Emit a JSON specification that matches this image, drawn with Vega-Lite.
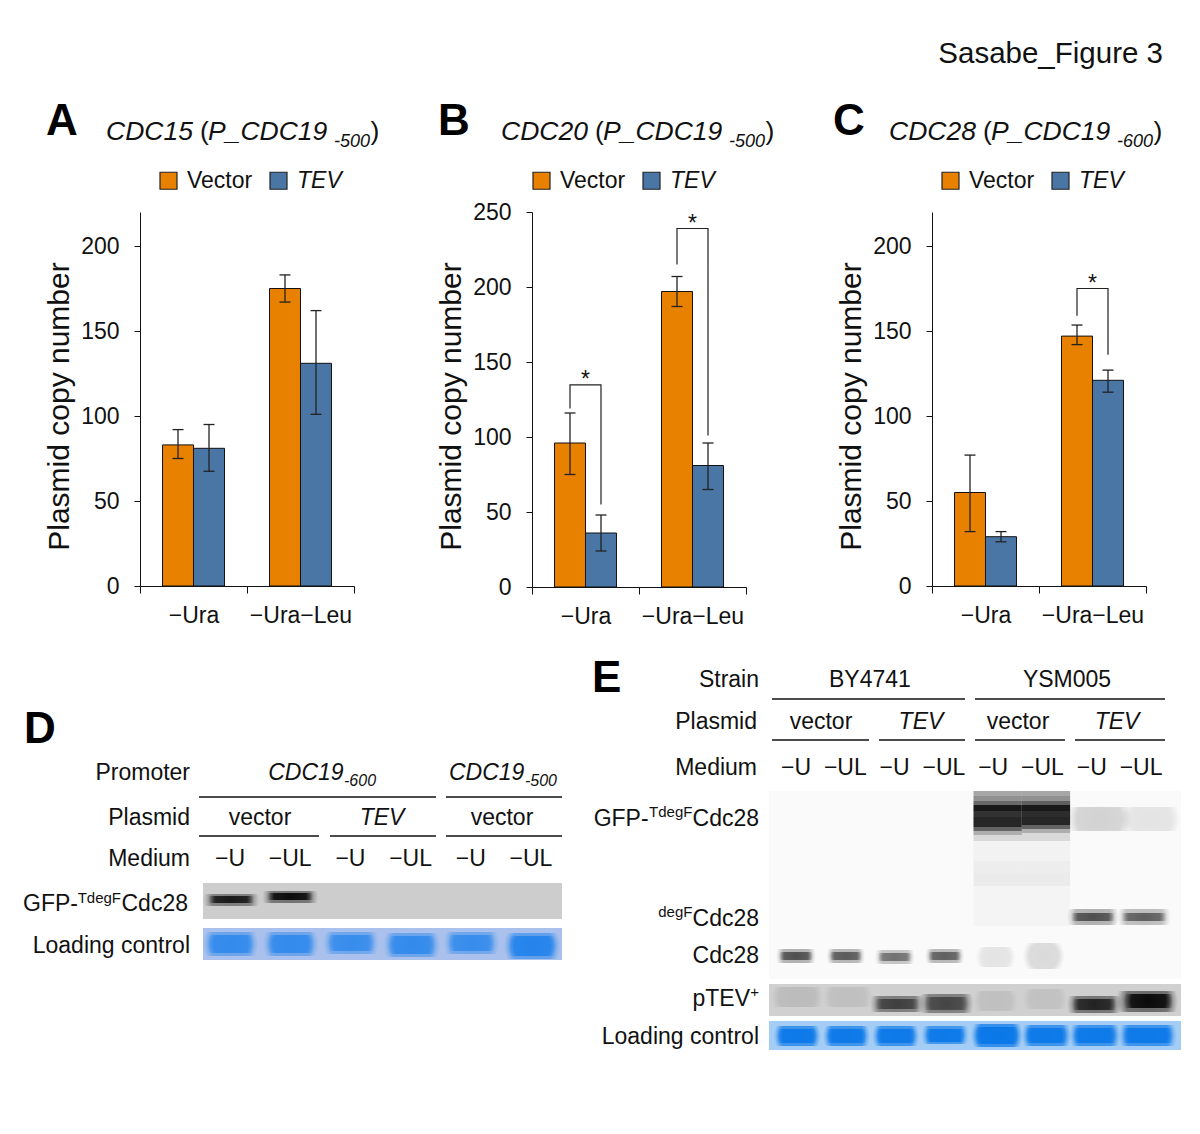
{
"$schema":"https://vega.github.io/schema/vega-lite/v6.json",
"background":"white",
"padding":{"left":10,"top":39,"right":0,"bottom":0},
"config":{"view":{"stroke":null},"font":"Liberation Sans","text":{"font":"Liberation Sans","fontSize":23,"color":"#111"}},
"datasets":{
"a":[{"cond":"−Ura","series":"Vector","mean":83,"lo":75,"hi":92},{"cond":"−Ura","series":"TEV","mean":81,"lo":67.5,"hi":95},{"cond":"−Ura−Leu","series":"Vector","mean":175,"lo":167,"hi":183},{"cond":"−Ura−Leu","series":"TEV","mean":131,"lo":101,"hi":162}],
"b":[{"cond":"−Ura","series":"Vector","mean":96,"lo":75,"hi":116},{"cond":"−Ura","series":"TEV","mean":36,"lo":24,"hi":48},{"cond":"−Ura−Leu","series":"Vector","mean":197,"lo":187,"hi":207},{"cond":"−Ura−Leu","series":"TEV","mean":81,"lo":65,"hi":96}],
"c":[{"cond":"−Ura","series":"Vector","mean":55,"lo":32,"hi":77},{"cond":"−Ura","series":"TEV","mean":29,"lo":26,"hi":32},{"cond":"−Ura−Leu","series":"Vector","mean":147,"lo":142,"hi":153.5},{"cond":"−Ura−Leu","series":"TEV","mean":121,"lo":114,"hi":127}],
"bb":[{"cond":"−Ura","series":"Vector","v":119,"step":1},{"cond":"−Ura","series":"Vector","v":134.7,"step":2},{"cond":"−Ura","series":"TEV","v":134.7,"step":3},{"cond":"−Ura","series":"TEV","v":55,"step":4},{"cond":"−Ura−Leu","series":"Vector","v":215,"step":1},{"cond":"−Ura−Leu","series":"Vector","v":239,"step":2},{"cond":"−Ura−Leu","series":"TEV","v":239,"step":3},{"cond":"−Ura−Leu","series":"TEV","v":101,"step":4}],
"bc":[{"cond":"−Ura−Leu","series":"Vector","v":159,"step":1},{"cond":"−Ura−Leu","series":"Vector","v":175,"step":2},{"cond":"−Ura−Leu","series":"TEV","v":175,"step":3},{"cond":"−Ura−Leu","series":"TEV","v":136,"step":4}],
"sb":[{"cond":"−Ura","v":134.7},{"cond":"−Ura−Leu","v":239}],
"sc":[{"cond":"−Ura−Leu","v":175}],
"dGray":[{"l0":0.551,"l1":6.515,"g0":882,"g1":918}],
"dBlue":[{"l0":0.551,"l1":6.515,"g0":927,"g1":959}],
"dBands":[
{"l0":0.56,"l1":1.48,"g0":893,"g1":905,"s":0.4},{"l0":0.64,"l1":1.4,"g0":895,"g1":902,"s":0.8},
{"l0":1.54,"l1":2.46,"g0":890,"g1":902,"s":0.45},{"l0":1.62,"l1":2.38,"g0":892,"g1":899,"s":0.9}],
"dLoad":[
{"l0":0.55,"l1":1.47,"g0":931,"g1":955,"s":0.45},{"l0":0.62,"l1":1.4,"g0":934,"g1":952,"s":0.7},
{"l0":1.55,"l1":2.47,"g0":931,"g1":955,"s":0.45},{"l0":1.62,"l1":2.4,"g0":934,"g1":952,"s":0.7},
{"l0":2.55,"l1":3.47,"g0":931,"g1":953,"s":0.42},{"l0":2.62,"l1":3.4,"g0":934,"g1":950,"s":0.65},
{"l0":3.55,"l1":4.49,"g0":932,"g1":956,"s":0.45},{"l0":3.62,"l1":4.42,"g0":935,"g1":953,"s":0.7},
{"l0":4.55,"l1":5.47,"g0":931,"g1":953,"s":0.42},{"l0":4.62,"l1":5.4,"g0":934,"g1":950,"s":0.65},
{"l0":5.55,"l1":6.49,"g0":932,"g1":958,"s":0.55},{"l0":5.62,"l1":6.42,"g0":935,"g1":955,"s":0.85}],
"dRules":[{"l0":0.485,"l1":4.422,"g0":796},{"l0":4.588,"l1":6.515,"g0":796},{"l0":0.485,"l1":2.478,"g0":835},{"l0":2.661,"l1":4.422,"g0":835},{"l0":4.588,"l1":6.515,"g0":835}],
"dRight":[{"label":"Promoter","l0":0.336,"g0":772},{"label":"Plasmid","l0":0.336,"g0":817},{"label":"Medium","l0":0.336,"g0":858},{"label":"Cdc28","l0":0.302,"g0":903},{"label":"GFP-","l0":-1.525,"g0":903},{"label":"Loading control","l0":0.336,"g0":945}],
"dSup":[{"label":"TdegF","l0":-0.81,"g0":897}],
"dCenter":[{"label":"vector","l0":1.498,"g0":817},{"label":"vector","l0":5.518,"g0":817},{"label":"−U","l0":1,"g0":858},{"label":"−UL","l0":2,"g0":858},{"label":"−U","l0":3,"g0":858},{"label":"−UL","l0":4,"g0":858},{"label":"−U","l0":5,"g0":858},{"label":"−UL","l0":6,"g0":858}],
"dItalic":[{"label":"TEV","l0":3.525,"g0":817}],
"dProm":[{"label":"CDC19","l0":1.635,"g0":772},{"label":"CDC19","l0":4.638,"g0":772}],
"dSub":[{"label":"-600","l0":2.894,"g0":780},{"label":"-500","l0":5.9,"g0":780}],
"dLetter":[{"label":"D","l0":-2.422,"g0":729}],
"eMain":[{"l0":0.452,"l1":8.81,"g0":790,"g1":978}],
"eGray":[{"l0":0.452,"l1":8.81,"g0":983,"g1":1015}],
"eBlue":[{"l0":0.452,"l1":8.81,"g0":1020,"g1":1049}],
"eSmear":[
{"l0":4.6,"l1":5.58,"g0":790,"g1":795,"s":0.33},{"l0":4.6,"l1":5.58,"g0":795,"g1":800,"s":0.42},{"l0":4.6,"l1":5.58,"g0":800,"g1":804,"s":0.58},{"l0":4.6,"l1":5.58,"g0":804,"g1":810,"s":0.9},{"l0":4.6,"l1":5.58,"g0":810,"g1":816,"s":0.8},{"l0":4.6,"l1":5.58,"g0":816,"g1":826,"s":0.85},{"l0":4.6,"l1":5.58,"g0":826,"g1":830,"s":0.6},{"l0":4.6,"l1":5.58,"g0":830,"g1":834,"s":0.3},{"l0":4.6,"l1":5.58,"g0":834,"g1":840,"s":0.13},{"l0":4.6,"l1":5.58,"g0":840,"g1":860,"s":0.03},{"l0":4.6,"l1":5.58,"g0":860,"g1":872,"s":0.05},{"l0":4.6,"l1":5.58,"g0":872,"g1":885,"s":0.06},{"l0":4.6,"l1":5.58,"g0":885,"g1":925,"s":0.025},
{"l0":5.58,"l1":6.56,"g0":790,"g1":795,"s":0.33},{"l0":5.58,"l1":6.56,"g0":795,"g1":800,"s":0.42},{"l0":5.58,"l1":6.56,"g0":800,"g1":804,"s":0.62},{"l0":5.58,"l1":6.56,"g0":804,"g1":810,"s":0.9},{"l0":5.58,"l1":6.56,"g0":810,"g1":816,"s":0.82},{"l0":5.58,"l1":6.56,"g0":816,"g1":824,"s":0.85},{"l0":5.58,"l1":6.56,"g0":824,"g1":828,"s":0.6},{"l0":5.58,"l1":6.56,"g0":828,"g1":832,"s":0.3},{"l0":5.58,"l1":6.56,"g0":832,"g1":840,"s":0.13},{"l0":5.58,"l1":6.56,"g0":840,"g1":860,"s":0.03},{"l0":5.58,"l1":6.56,"g0":860,"g1":872,"s":0.05},{"l0":5.58,"l1":6.56,"g0":872,"g1":885,"s":0.06},{"l0":5.58,"l1":6.56,"g0":885,"g1":925,"s":0.025}],
"eBands":[
{"l0":6.5,"l1":7.8,"g0":806,"g1":830,"s":0.16},
{"l0":7.6,"l1":8.8,"g0":806,"g1":830,"s":0.09},
{"l0":6.5,"l1":7.55,"g0":908,"g1":924,"s":0.3},{"l0":6.58,"l1":7.47,"g0":912,"g1":920,"s":0.55},
{"l0":7.52,"l1":8.6,"g0":908,"g1":924,"s":0.25},{"l0":7.6,"l1":8.52,"g0":912,"g1":920,"s":0.5},
{"l0":0.6,"l1":1.4,"g0":948,"g1":962,"s":0.3},{"l0":0.66,"l1":1.34,"g0":951,"g1":959,"s":0.55},
{"l0":1.62,"l1":2.4,"g0":948,"g1":962,"s":0.28},{"l0":1.68,"l1":2.34,"g0":951,"g1":959,"s":0.5},
{"l0":2.6,"l1":3.41,"g0":949,"g1":963,"s":0.22},{"l0":2.66,"l1":3.35,"g0":952,"g1":960,"s":0.42},
{"l0":3.62,"l1":4.41,"g0":948,"g1":962,"s":0.27},{"l0":3.68,"l1":4.35,"g0":951,"g1":959,"s":0.48},
{"l0":4.65,"l1":5.45,"g0":946,"g1":966,"s":0.09},{"l0":5.6,"l1":6.45,"g0":942,"g1":968,"s":0.13}],
"eTev":[
{"l0":0.5,"l1":1.55,"g0":986,"g1":1006,"s":0.1},{"l0":1.55,"l1":2.55,"g0":986,"g1":1006,"s":0.08},
{"l0":2.5,"l1":3.6,"g0":995,"g1":1011,"s":0.4},{"l0":2.6,"l1":3.5,"g0":998,"g1":1008,"s":0.5},
{"l0":3.5,"l1":4.6,"g0":993,"g1":1012,"s":0.4},{"l0":3.6,"l1":4.5,"g0":996,"g1":1009,"s":0.45},
{"l0":4.6,"l1":5.5,"g0":990,"g1":1010,"s":0.08},{"l0":5.6,"l1":6.5,"g0":988,"g1":1008,"s":0.07},
{"l0":6.5,"l1":7.6,"g0":995,"g1":1012,"s":0.45},{"l0":6.6,"l1":7.5,"g0":998,"g1":1009,"s":0.7},
{"l0":7.5,"l1":8.75,"g0":990,"g1":1011,"s":0.5},{"l0":7.65,"l1":8.65,"g0":993,"g1":1007,"s":0.9}],
"eLoad":[
{"l0":0.55,"l1":1.5,"g0":1025,"g1":1045,"s":0.7},{"l0":0.62,"l1":1.43,"g0":1028,"g1":1042,"s":0.95},
{"l0":1.55,"l1":2.5,"g0":1025,"g1":1045,"s":0.7},{"l0":1.62,"l1":2.43,"g0":1028,"g1":1042,"s":0.95},
{"l0":2.55,"l1":3.5,"g0":1025,"g1":1045,"s":0.7},{"l0":2.62,"l1":3.43,"g0":1028,"g1":1042,"s":0.95},
{"l0":3.55,"l1":4.5,"g0":1025,"g1":1043,"s":0.65},{"l0":3.62,"l1":4.43,"g0":1028,"g1":1041,"s":0.95},
{"l0":4.55,"l1":5.6,"g0":1023,"g1":1046,"s":0.75},{"l0":4.62,"l1":5.53,"g0":1026,"g1":1043,"s":1},
{"l0":5.58,"l1":6.58,"g0":1024,"g1":1045,"s":0.7},{"l0":5.65,"l1":6.5,"g0":1027,"g1":1042,"s":0.95},
{"l0":6.55,"l1":7.58,"g0":1024,"g1":1045,"s":0.7},{"l0":6.62,"l1":7.5,"g0":1027,"g1":1042,"s":0.95},
{"l0":7.55,"l1":8.72,"g0":1024,"g1":1045,"s":0.7},{"l0":7.62,"l1":8.65,"g0":1027,"g1":1042,"s":0.95}],
"eRules":[{"l0":0.513,"l1":4.428,"g0":698},{"l0":4.631,"l1":8.485,"g0":698},{"l0":0.513,"l1":2.481,"g0":739},{"l0":2.684,"l1":4.428,"g0":739},{"l0":4.631,"l1":6.456,"g0":739},{"l0":6.659,"l1":8.485,"g0":739}],
"eRight":[{"label":"Strain","l0":0.25,"g0":679},{"label":"Plasmid","l0":0.209,"g0":721},{"label":"Medium","l0":0.209,"g0":767},{"label":"Cdc28","l0":0.25,"g0":818},{"label":"GFP-","l0":-1.99,"g0":818},{"label":"Cdc28","l0":0.25,"g0":918},{"label":"Cdc28","l0":0.25,"g0":955},{"label":"pTEV","l0":0.067,"g0":998},{"label":"Loading control","l0":0.25,"g0":1036}],
"eSup":[{"label":"TdegF","l0":-1.1,"g0":811},{"label":"degF","l0":-1.1,"g0":911},{"label":"+","l0":0.25,"g0":991}],
"eCenter":[{"label":"BY4741","l0":2.5,"g0":679},{"label":"YSM005","l0":6.497,"g0":679},{"label":"vector","l0":1.507,"g0":721},{"label":"vector","l0":5.503,"g0":721},{"label":"−U","l0":1,"g0":767},{"label":"−UL","l0":2,"g0":767},{"label":"−U","l0":3,"g0":767},{"label":"−UL","l0":4,"g0":767},{"label":"−U","l0":5,"g0":767},{"label":"−UL","l0":6,"g0":767},{"label":"−U","l0":7,"g0":767},{"label":"−UL","l0":8,"g0":767}],
"eItalic":[{"label":"TEV","l0":3.535,"g0":721},{"label":"TEV","l0":7.511,"g0":721}],
"eLetter":[{"label":"E","l0":-3.138,"g0":678}]
},
"vconcat":[
{"resolve":{"legend":{"color":"independent"},"scale":{"color":"independent"}},"hconcat":[
{"width":214,"height":374,"layer":[
{"data":{"name":"a"},"mark":{"type":"bar","stroke":"#111","strokeWidth":1},"encoding":{"x":{"field":"cond","type":"nominal","title":null,"scale":{"domain":["−Ura","−Ura−Leu"],"paddingInner":0,"paddingOuter":0},"axis":{"tickBand":"extent","labelAngle":0,"labelFontSize":23,"labelColor":"#111","labelPadding":11,"tickSize":7,"tickColor":"#111","domainColor":"#111"}},"xOffset":{"field":"series","type":"nominal","sort":["Vector","TEV"],"scale":{"domain":["Vector","TEV"],"paddingInner":0,"paddingOuter":0.726}},"y":{"field":"mean","type":"quantitative","title":"Plasmid copy number","scale":{"domain":[0,220],"nice":false},"axis":{"values":[0,50,100,150,200],"grid":false,"labelFontSize":23,"labelColor":"#111","labelPadding":15,"tickSize":6,"tickColor":"#111","domainColor":"#111","titleFontSize":30,"titleFontWeight":"normal","titleColor":"#111","titlePadding":6,"titleY":194}},"color":{"field":"series","type":"nominal","scale":{"domain":["Vector","TEV"],"range":["#E88000","#4A76A5"]},"legend":{"title":null,"orient":"none","legendX":17,"legendY":-43,"direction":"horizontal","symbolType":"square","symbolSize":289,"symbolStrokeColor":"#222","symbolStrokeWidth":1.2,"symbolOpacity":1,"labelFontSize":23,"labelColor":"#111","labelOffset":7,"columnPadding":14,"padding":0,"encode":{"labels":{"update":{"fontStyle":{"signal":"datum.value == 'TEV' ? 'italic' : 'normal'"}}}}}}}},
{"data":{"name":"a"},"mark":{"type":"rule","stroke":"#222","strokeWidth":1.3},"encoding":{"x":{"field":"cond","type":"nominal","scale":{"domain":["−Ura","−Ura−Leu"],"paddingInner":0,"paddingOuter":0}},"xOffset":{"field":"series","type":"nominal","sort":["Vector","TEV"],"scale":{"domain":["Vector","TEV"],"paddingInner":0,"paddingOuter":0.726}},"y":{"field":"lo","type":"quantitative","scale":{"domain":[0,220],"nice":false}},"y2":{"field":"hi"}}},
{"data":{"name":"a"},"mark":{"type":"tick","orient":"horizontal","size":11,"thickness":1.3,"color":"#222","opacity":1},"encoding":{"x":{"field":"cond","type":"nominal","scale":{"domain":["−Ura","−Ura−Leu"],"paddingInner":0,"paddingOuter":0}},"xOffset":{"field":"series","type":"nominal","sort":["Vector","TEV"],"scale":{"domain":["Vector","TEV"],"paddingInner":0,"paddingOuter":0.726}},"y":{"field":"lo","type":"quantitative","scale":{"domain":[0,220],"nice":false}}}},
{"data":{"name":"a"},"mark":{"type":"tick","orient":"horizontal","size":11,"thickness":1.3,"color":"#222","opacity":1},"encoding":{"x":{"field":"cond","type":"nominal","scale":{"domain":["−Ura","−Ura−Leu"],"paddingInner":0,"paddingOuter":0}},"xOffset":{"field":"series","type":"nominal","sort":["Vector","TEV"],"scale":{"domain":["Vector","TEV"],"paddingInner":0,"paddingOuter":0.726}},"y":{"field":"hi","type":"quantitative","scale":{"domain":[0,220],"nice":false}}}},
{"data":{"values":[{"t":"A"}]},"mark":{"type":"text","fontSize":44,"fontWeight":"bold","color":"black","align":"left","baseline":"alphabetic","dx":-147.5,"dy":-77},"encoding":{"x":{"datum":"−Ura","type":"nominal","scale":{"domain":["−Ura","−Ura−Leu"],"paddingInner":0,"paddingOuter":0}},"y":{"datum":220,"type":"quantitative","scale":{"domain":[0,220],"nice":false}},"text":{"field":"t"}}},
{"data":{"values":[{"t":"CDC15"}]},"mark":{"type":"text","fontSize":26.5,"fontStyle":"italic","align":"left","baseline":"alphabetic","dx":-87.5,"dy":-72},"encoding":{"x":{"datum":"−Ura","type":"nominal","scale":{"domain":["−Ura","−Ura−Leu"],"paddingInner":0,"paddingOuter":0}},"y":{"datum":220,"type":"quantitative","scale":{"domain":[0,220],"nice":false}},"text":{"field":"t"}}},
{"data":{"values":[{"t":"("}]},"mark":{"type":"text","fontSize":26.5,"align":"left","baseline":"alphabetic","dx":6.5,"dy":-72},"encoding":{"x":{"datum":"−Ura","type":"nominal","scale":{"domain":["−Ura","−Ura−Leu"],"paddingInner":0,"paddingOuter":0}},"y":{"datum":220,"type":"quantitative","scale":{"domain":[0,220],"nice":false}},"text":{"field":"t"}}},
{"data":{"values":[{"t":"P_CDC19"}]},"mark":{"type":"text","fontSize":26.5,"fontStyle":"italic","align":"left","baseline":"alphabetic","dx":14.5,"dy":-72},"encoding":{"x":{"datum":"−Ura","type":"nominal","scale":{"domain":["−Ura","−Ura−Leu"],"paddingInner":0,"paddingOuter":0}},"y":{"datum":220,"type":"quantitative","scale":{"domain":[0,220],"nice":false}},"text":{"field":"t"}}},
{"data":{"values":[{"t":"-500"}]},"mark":{"type":"text","fontSize":18,"fontStyle":"italic","align":"left","baseline":"alphabetic","dx":140.5,"dy":-65},"encoding":{"x":{"datum":"−Ura","type":"nominal","scale":{"domain":["−Ura","−Ura−Leu"],"paddingInner":0,"paddingOuter":0}},"y":{"datum":220,"type":"quantitative","scale":{"domain":[0,220],"nice":false}},"text":{"field":"t"}}},
{"data":{"values":[{"t":")"}]},"mark":{"type":"text","fontSize":26.5,"align":"left","baseline":"alphabetic","dx":177,"dy":-72},"encoding":{"x":{"datum":"−Ura","type":"nominal","scale":{"domain":["−Ura","−Ura−Leu"],"paddingInner":0,"paddingOuter":0}},"y":{"datum":220,"type":"quantitative","scale":{"domain":[0,220],"nice":false}},"text":{"field":"t"}}},
{"data":{"values":[{"t":" "}]},"mark":{"type":"text","opacity":0,"fontSize":10,"align":"left","baseline":"middle","dx":-183.5},"encoding":{"x":{"datum":"−Ura","type":"nominal","scale":{"domain":["−Ura","−Ura−Leu"],"paddingInner":0,"paddingOuter":0}},"y":{"datum":220,"type":"quantitative","scale":{"domain":[0,220],"nice":false}},"text":{"field":"t"}}}
]},
{"width":214,"height":375,"layer":[
{"data":{"name":"b"},"mark":{"type":"bar","stroke":"#111","strokeWidth":1},"encoding":{"x":{"field":"cond","type":"nominal","title":null,"scale":{"domain":["−Ura","−Ura−Leu"],"paddingInner":0,"paddingOuter":0},"axis":{"tickBand":"extent","labelAngle":0,"labelFontSize":23,"labelColor":"#111","labelPadding":11,"tickSize":7,"tickColor":"#111","domainColor":"#111"}},"xOffset":{"field":"series","type":"nominal","sort":["Vector","TEV"],"scale":{"domain":["Vector","TEV"],"paddingInner":0,"paddingOuter":0.726}},"y":{"field":"mean","type":"quantitative","title":"Plasmid copy number","scale":{"domain":[0,250],"nice":false},"axis":{"values":[0,50,100,150,200,250],"grid":false,"labelFontSize":23,"labelColor":"#111","labelPadding":15,"tickSize":6,"tickColor":"#111","domainColor":"#111","titleFontSize":30,"titleFontWeight":"normal","titleColor":"#111","titlePadding":6,"titleY":194}},"color":{"field":"series","type":"nominal","scale":{"domain":["Vector","TEV"],"range":["#E88000","#4A76A5"]},"legend":{"title":null,"orient":"none","legendX":-2,"legendY":-43,"direction":"horizontal","symbolType":"square","symbolSize":289,"symbolStrokeColor":"#222","symbolStrokeWidth":1.2,"symbolOpacity":1,"labelFontSize":23,"labelColor":"#111","labelOffset":7,"columnPadding":14,"padding":0,"encode":{"labels":{"update":{"fontStyle":{"signal":"datum.value == 'TEV' ? 'italic' : 'normal'"}}}}}}}},
{"data":{"name":"b"},"mark":{"type":"rule","stroke":"#222","strokeWidth":1.3},"encoding":{"x":{"field":"cond","type":"nominal","scale":{"domain":["−Ura","−Ura−Leu"],"paddingInner":0,"paddingOuter":0}},"xOffset":{"field":"series","type":"nominal","sort":["Vector","TEV"],"scale":{"domain":["Vector","TEV"],"paddingInner":0,"paddingOuter":0.726}},"y":{"field":"lo","type":"quantitative","scale":{"domain":[0,250],"nice":false}},"y2":{"field":"hi"}}},
{"data":{"name":"b"},"mark":{"type":"tick","orient":"horizontal","size":11,"thickness":1.3,"color":"#222","opacity":1},"encoding":{"x":{"field":"cond","type":"nominal","scale":{"domain":["−Ura","−Ura−Leu"],"paddingInner":0,"paddingOuter":0}},"xOffset":{"field":"series","type":"nominal","sort":["Vector","TEV"],"scale":{"domain":["Vector","TEV"],"paddingInner":0,"paddingOuter":0.726}},"y":{"field":"lo","type":"quantitative","scale":{"domain":[0,250],"nice":false}}}},
{"data":{"name":"b"},"mark":{"type":"tick","orient":"horizontal","size":11,"thickness":1.3,"color":"#222","opacity":1},"encoding":{"x":{"field":"cond","type":"nominal","scale":{"domain":["−Ura","−Ura−Leu"],"paddingInner":0,"paddingOuter":0}},"xOffset":{"field":"series","type":"nominal","sort":["Vector","TEV"],"scale":{"domain":["Vector","TEV"],"paddingInner":0,"paddingOuter":0.726}},"y":{"field":"hi","type":"quantitative","scale":{"domain":[0,250],"nice":false}}}},
{"data":{"name":"bb"},"mark":{"type":"line","stroke":"#222","strokeWidth":1.2,"interpolate":"linear"},"encoding":{"x":{"field":"cond","type":"nominal","scale":{"domain":["−Ura","−Ura−Leu"],"paddingInner":0,"paddingOuter":0}},"xOffset":{"field":"series","type":"nominal","sort":["Vector","TEV"],"scale":{"domain":["Vector","TEV"],"paddingInner":0,"paddingOuter":0.726}},"y":{"field":"v","type":"quantitative","scale":{"domain":[0,250],"nice":false}},"detail":{"field":"cond"},"order":{"field":"step","type":"quantitative"}}},
{"data":{"name":"sb"},"mark":{"type":"text","text":"*","fontSize":23,"baseline":"middle","dy":-5},"encoding":{"x":{"field":"cond","type":"nominal","scale":{"domain":["−Ura","−Ura−Leu"],"paddingInner":0,"paddingOuter":0}},"y":{"field":"v","type":"quantitative","scale":{"domain":[0,250],"nice":false}}}},
{"data":{"values":[{"t":"B"}]},"mark":{"type":"text","fontSize":44,"fontWeight":"bold","color":"black","align":"left","baseline":"alphabetic","dx":-147.5,"dy":-77},"encoding":{"x":{"datum":"−Ura","type":"nominal","scale":{"domain":["−Ura","−Ura−Leu"],"paddingInner":0,"paddingOuter":0}},"y":{"datum":250,"type":"quantitative","scale":{"domain":[0,250],"nice":false}},"text":{"field":"t"}}},
{"data":{"values":[{"t":"CDC20"}]},"mark":{"type":"text","fontSize":26.5,"fontStyle":"italic","align":"left","baseline":"alphabetic","dx":-84.5,"dy":-72},"encoding":{"x":{"datum":"−Ura","type":"nominal","scale":{"domain":["−Ura","−Ura−Leu"],"paddingInner":0,"paddingOuter":0}},"y":{"datum":250,"type":"quantitative","scale":{"domain":[0,250],"nice":false}},"text":{"field":"t"}}},
{"data":{"values":[{"t":"("}]},"mark":{"type":"text","fontSize":26.5,"align":"left","baseline":"alphabetic","dx":9.5,"dy":-72},"encoding":{"x":{"datum":"−Ura","type":"nominal","scale":{"domain":["−Ura","−Ura−Leu"],"paddingInner":0,"paddingOuter":0}},"y":{"datum":250,"type":"quantitative","scale":{"domain":[0,250],"nice":false}},"text":{"field":"t"}}},
{"data":{"values":[{"t":"P_CDC19"}]},"mark":{"type":"text","fontSize":26.5,"fontStyle":"italic","align":"left","baseline":"alphabetic","dx":17.5,"dy":-72},"encoding":{"x":{"datum":"−Ura","type":"nominal","scale":{"domain":["−Ura","−Ura−Leu"],"paddingInner":0,"paddingOuter":0}},"y":{"datum":250,"type":"quantitative","scale":{"domain":[0,250],"nice":false}},"text":{"field":"t"}}},
{"data":{"values":[{"t":"-500"}]},"mark":{"type":"text","fontSize":18,"fontStyle":"italic","align":"left","baseline":"alphabetic","dx":143.5,"dy":-65},"encoding":{"x":{"datum":"−Ura","type":"nominal","scale":{"domain":["−Ura","−Ura−Leu"],"paddingInner":0,"paddingOuter":0}},"y":{"datum":250,"type":"quantitative","scale":{"domain":[0,250],"nice":false}},"text":{"field":"t"}}},
{"data":{"values":[{"t":")"}]},"mark":{"type":"text","fontSize":26.5,"align":"left","baseline":"alphabetic","dx":180,"dy":-72},"encoding":{"x":{"datum":"−Ura","type":"nominal","scale":{"domain":["−Ura","−Ura−Leu"],"paddingInner":0,"paddingOuter":0}},"y":{"datum":250,"type":"quantitative","scale":{"domain":[0,250],"nice":false}},"text":{"field":"t"}}},
{"data":{"values":[{"t":" "}]},"mark":{"type":"text","opacity":0,"fontSize":10,"align":"left","baseline":"middle","dx":191.5},"encoding":{"x":{"datum":"−Ura","type":"nominal","scale":{"domain":["−Ura","−Ura−Leu"],"paddingInner":0,"paddingOuter":0}},"y":{"datum":250,"type":"quantitative","scale":{"domain":[0,250],"nice":false}},"text":{"field":"t"}}}
]},
{"width":214,"height":374,"layer":[
{"data":{"name":"c"},"mark":{"type":"bar","stroke":"#111","strokeWidth":1},"encoding":{"x":{"field":"cond","type":"nominal","title":null,"scale":{"domain":["−Ura","−Ura−Leu"],"paddingInner":0,"paddingOuter":0},"axis":{"tickBand":"extent","labelAngle":0,"labelFontSize":23,"labelColor":"#111","labelPadding":11,"tickSize":7,"tickColor":"#111","domainColor":"#111"}},"xOffset":{"field":"series","type":"nominal","sort":["Vector","TEV"],"scale":{"domain":["Vector","TEV"],"paddingInner":0,"paddingOuter":0.726}},"y":{"field":"mean","type":"quantitative","title":"Plasmid copy number","scale":{"domain":[0,220],"nice":false},"axis":{"values":[0,50,100,150,200],"grid":false,"labelFontSize":23,"labelColor":"#111","labelPadding":15,"tickSize":6,"tickColor":"#111","domainColor":"#111","titleFontSize":30,"titleFontWeight":"normal","titleColor":"#111","titlePadding":6,"titleY":194}},"color":{"field":"series","type":"nominal","scale":{"domain":["Vector","TEV"],"range":["#E88000","#4A76A5"]},"legend":{"title":null,"orient":"none","legendX":7,"legendY":-43,"direction":"horizontal","symbolType":"square","symbolSize":289,"symbolStrokeColor":"#222","symbolStrokeWidth":1.2,"symbolOpacity":1,"labelFontSize":23,"labelColor":"#111","labelOffset":7,"columnPadding":14,"padding":0,"encode":{"labels":{"update":{"fontStyle":{"signal":"datum.value == 'TEV' ? 'italic' : 'normal'"}}}}}}}},
{"data":{"name":"c"},"mark":{"type":"rule","stroke":"#222","strokeWidth":1.3},"encoding":{"x":{"field":"cond","type":"nominal","scale":{"domain":["−Ura","−Ura−Leu"],"paddingInner":0,"paddingOuter":0}},"xOffset":{"field":"series","type":"nominal","sort":["Vector","TEV"],"scale":{"domain":["Vector","TEV"],"paddingInner":0,"paddingOuter":0.726}},"y":{"field":"lo","type":"quantitative","scale":{"domain":[0,220],"nice":false}},"y2":{"field":"hi"}}},
{"data":{"name":"c"},"mark":{"type":"tick","orient":"horizontal","size":11,"thickness":1.3,"color":"#222","opacity":1},"encoding":{"x":{"field":"cond","type":"nominal","scale":{"domain":["−Ura","−Ura−Leu"],"paddingInner":0,"paddingOuter":0}},"xOffset":{"field":"series","type":"nominal","sort":["Vector","TEV"],"scale":{"domain":["Vector","TEV"],"paddingInner":0,"paddingOuter":0.726}},"y":{"field":"lo","type":"quantitative","scale":{"domain":[0,220],"nice":false}}}},
{"data":{"name":"c"},"mark":{"type":"tick","orient":"horizontal","size":11,"thickness":1.3,"color":"#222","opacity":1},"encoding":{"x":{"field":"cond","type":"nominal","scale":{"domain":["−Ura","−Ura−Leu"],"paddingInner":0,"paddingOuter":0}},"xOffset":{"field":"series","type":"nominal","sort":["Vector","TEV"],"scale":{"domain":["Vector","TEV"],"paddingInner":0,"paddingOuter":0.726}},"y":{"field":"hi","type":"quantitative","scale":{"domain":[0,220],"nice":false}}}},
{"data":{"name":"bc"},"mark":{"type":"line","stroke":"#222","strokeWidth":1.2,"interpolate":"linear"},"encoding":{"x":{"field":"cond","type":"nominal","scale":{"domain":["−Ura","−Ura−Leu"],"paddingInner":0,"paddingOuter":0}},"xOffset":{"field":"series","type":"nominal","sort":["Vector","TEV"],"scale":{"domain":["Vector","TEV"],"paddingInner":0,"paddingOuter":0.726}},"y":{"field":"v","type":"quantitative","scale":{"domain":[0,220],"nice":false}},"detail":{"field":"cond"},"order":{"field":"step","type":"quantitative"}}},
{"data":{"name":"sc"},"mark":{"type":"text","text":"*","fontSize":23,"baseline":"middle","dy":-5},"encoding":{"x":{"field":"cond","type":"nominal","scale":{"domain":["−Ura","−Ura−Leu"],"paddingInner":0,"paddingOuter":0}},"y":{"field":"v","type":"quantitative","scale":{"domain":[0,220],"nice":false}}}},
{"data":{"values":[{"t":"C"}]},"mark":{"type":"text","fontSize":44,"fontWeight":"bold","color":"black","align":"left","baseline":"alphabetic","dx":-152.5,"dy":-77},"encoding":{"x":{"datum":"−Ura","type":"nominal","scale":{"domain":["−Ura","−Ura−Leu"],"paddingInner":0,"paddingOuter":0}},"y":{"datum":220,"type":"quantitative","scale":{"domain":[0,220],"nice":false}},"text":{"field":"t"}}},
{"data":{"values":[{"t":"CDC28"}]},"mark":{"type":"text","fontSize":26.5,"fontStyle":"italic","align":"left","baseline":"alphabetic","dx":-96.5,"dy":-72},"encoding":{"x":{"datum":"−Ura","type":"nominal","scale":{"domain":["−Ura","−Ura−Leu"],"paddingInner":0,"paddingOuter":0}},"y":{"datum":220,"type":"quantitative","scale":{"domain":[0,220],"nice":false}},"text":{"field":"t"}}},
{"data":{"values":[{"t":"("}]},"mark":{"type":"text","fontSize":26.5,"align":"left","baseline":"alphabetic","dx":-2.5,"dy":-72},"encoding":{"x":{"datum":"−Ura","type":"nominal","scale":{"domain":["−Ura","−Ura−Leu"],"paddingInner":0,"paddingOuter":0}},"y":{"datum":220,"type":"quantitative","scale":{"domain":[0,220],"nice":false}},"text":{"field":"t"}}},
{"data":{"values":[{"t":"P_CDC19"}]},"mark":{"type":"text","fontSize":26.5,"fontStyle":"italic","align":"left","baseline":"alphabetic","dx":5.5,"dy":-72},"encoding":{"x":{"datum":"−Ura","type":"nominal","scale":{"domain":["−Ura","−Ura−Leu"],"paddingInner":0,"paddingOuter":0}},"y":{"datum":220,"type":"quantitative","scale":{"domain":[0,220],"nice":false}},"text":{"field":"t"}}},
{"data":{"values":[{"t":"-600"}]},"mark":{"type":"text","fontSize":18,"fontStyle":"italic","align":"left","baseline":"alphabetic","dx":131.5,"dy":-65},"encoding":{"x":{"datum":"−Ura","type":"nominal","scale":{"domain":["−Ura","−Ura−Leu"],"paddingInner":0,"paddingOuter":0}},"y":{"datum":220,"type":"quantitative","scale":{"domain":[0,220],"nice":false}},"text":{"field":"t"}}},
{"data":{"values":[{"t":")"}]},"mark":{"type":"text","fontSize":26.5,"align":"left","baseline":"alphabetic","dx":168,"dy":-72},"encoding":{"x":{"datum":"−Ura","type":"nominal","scale":{"domain":["−Ura","−Ura−Leu"],"paddingInner":0,"paddingOuter":0}},"y":{"datum":220,"type":"quantitative","scale":{"domain":[0,220],"nice":false}},"text":{"field":"t"}}},
{"data":{"values":[{"t":"Sasabe_Figure 3"}]},"mark":{"type":"text","fontSize":29.5,"align":"right","baseline":"alphabetic","dx":70.5,"dy":-149},"encoding":{"x":{"datum":"−Ura−Leu","type":"nominal","scale":{"domain":["−Ura","−Ura−Leu"],"paddingInner":0,"paddingOuter":0}},"y":{"datum":220,"type":"quantitative","scale":{"domain":[0,220],"nice":false}},"text":{"field":"t"}}}
]}
],"spacing":56},
{"hconcat":[
{"width":435,"height":400,"encoding":{"x":{"field":"l0","type":"quantitative","axis":null,"scale":{"domain":[-0.495,6.731],"nice":false,"zero":false}},"y":{"field":"g0","type":"quantitative","axis":null,"scale":{"domain":[1060,660],"nice":false,"zero":false}}},
"layer":[
{"data":{"name":"dGray"},"mark":{"type":"rect","fill":"#cdcdcd"},"encoding":{"x2":{"field":"l1"},"y2":{"field":"g1"}}},
{"data":{"name":"dBlue"},"mark":{"type":"rect","fill":"#a9c1ec"},"encoding":{"x2":{"field":"l1"},"y2":{"field":"g1"}}},
{"data":{"name":"dBands"},"mark":{"type":"rect","fill":{"gradient":"radial","x1":0.5,"y1":0.5,"x2":0.5,"y2":0.5,"r1":0,"r2":0.5,"stops":[{"offset":0,"color":"rgba(0,0,0,1)"},{"offset":0.7,"color":"rgba(0,0,0,0.9)"},{"offset":1,"color":"rgba(0,0,0,0)"}]}},"encoding":{"x2":{"field":"l1"},"y2":{"field":"g1"},"opacity":{"field":"s","type":"quantitative","scale":null}}},
{"data":{"name":"dLoad"},"mark":{"type":"rect","fill":{"gradient":"radial","x1":0.5,"y1":0.5,"x2":0.5,"y2":0.5,"r1":0,"r2":0.5,"stops":[{"offset":0,"color":"rgba(26,127,236,1)"},{"offset":0.75,"color":"rgba(26,127,236,0.9)"},{"offset":1,"color":"rgba(26,127,236,0)"}]}},"encoding":{"x2":{"field":"l1"},"y2":{"field":"g1"},"opacity":{"field":"s","type":"quantitative","scale":null}}},
{"data":{"name":"dRules"},"mark":{"type":"rule","stroke":"#111","strokeWidth":1.5},"encoding":{"x2":{"field":"l1"}}},
{"data":{"name":"dRight"},"mark":{"type":"text","align":"right","baseline":"middle"},"encoding":{"text":{"field":"label"}}},
{"data":{"name":"dSup"},"mark":{"type":"text","align":"right","baseline":"middle","fontSize":15},"encoding":{"text":{"field":"label"}}},
{"data":{"name":"dCenter"},"mark":{"type":"text","align":"center","baseline":"middle"},"encoding":{"text":{"field":"label"}}},
{"data":{"name":"dItalic"},"mark":{"type":"text","align":"center","baseline":"middle","fontStyle":"italic"},"encoding":{"text":{"field":"label"}}},
{"data":{"name":"dProm"},"mark":{"type":"text","align":"left","baseline":"middle","fontStyle":"italic"},"encoding":{"text":{"field":"label"}}},
{"data":{"name":"dSub"},"mark":{"type":"text","align":"left","baseline":"middle","fontStyle":"italic","fontSize":16},"encoding":{"text":{"field":"label"}}},
{"data":{"name":"dLetter"},"mark":{"type":"text","align":"left","baseline":"middle","fontSize":44,"fontWeight":"bold","color":"black"},"encoding":{"text":{"field":"label"}}}
]},
{"width":605,"height":400,"encoding":{"x":{"field":"l0","type":"quantitative","axis":null,"scale":{"domain":[-3.28,8.992],"nice":false,"zero":false}},"y":{"field":"g0","type":"quantitative","axis":null,"scale":{"domain":[1060,660],"nice":false,"zero":false}}},
"layer":[
{"data":{"name":"eMain"},"mark":{"type":"rect","fill":"#fafafa"},"encoding":{"x2":{"field":"l1"},"y2":{"field":"g1"}}},
{"data":{"name":"eGray"},"mark":{"type":"rect","fill":"#d0d0d0"},"encoding":{"x2":{"field":"l1"},"y2":{"field":"g1"}}},
{"data":{"name":"eBlue"},"mark":{"type":"rect","fill":"#a3cdf5"},"encoding":{"x2":{"field":"l1"},"y2":{"field":"g1"}}},
{"data":{"name":"eSmear"},"mark":{"type":"rect","fill":"#000"},"encoding":{"x2":{"field":"l1"},"y2":{"field":"g1"},"opacity":{"field":"s","type":"quantitative","scale":null}}},
{"data":{"name":"eBands"},"mark":{"type":"rect","fill":{"gradient":"radial","x1":0.5,"y1":0.5,"x2":0.5,"y2":0.5,"r1":0,"r2":0.5,"stops":[{"offset":0,"color":"rgba(0,0,0,1)"},{"offset":0.7,"color":"rgba(0,0,0,0.9)"},{"offset":1,"color":"rgba(0,0,0,0)"}]}},"encoding":{"x2":{"field":"l1"},"y2":{"field":"g1"},"opacity":{"field":"s","type":"quantitative","scale":null}}},
{"data":{"name":"eTev"},"mark":{"type":"rect","fill":{"gradient":"radial","x1":0.5,"y1":0.5,"x2":0.5,"y2":0.5,"r1":0,"r2":0.5,"stops":[{"offset":0,"color":"rgba(0,0,0,1)"},{"offset":0.7,"color":"rgba(0,0,0,0.9)"},{"offset":1,"color":"rgba(0,0,0,0)"}]}},"encoding":{"x2":{"field":"l1"},"y2":{"field":"g1"},"opacity":{"field":"s","type":"quantitative","scale":null}}},
{"data":{"name":"eLoad"},"mark":{"type":"rect","fill":{"gradient":"radial","x1":0.5,"y1":0.5,"x2":0.5,"y2":0.5,"r1":0,"r2":0.5,"stops":[{"offset":0,"color":"rgba(11,120,232,1)"},{"offset":0.75,"color":"rgba(11,120,232,0.95)"},{"offset":1,"color":"rgba(11,120,232,0)"}]}},"encoding":{"x2":{"field":"l1"},"y2":{"field":"g1"},"opacity":{"field":"s","type":"quantitative","scale":null}}},
{"data":{"name":"eRules"},"mark":{"type":"rule","stroke":"#111","strokeWidth":1.5},"encoding":{"x2":{"field":"l1"}}},
{"data":{"name":"eRight"},"mark":{"type":"text","align":"right","baseline":"middle"},"encoding":{"text":{"field":"label"}}},
{"data":{"name":"eSup"},"mark":{"type":"text","align":"right","baseline":"middle","fontSize":15},"encoding":{"text":{"field":"label"}}},
{"data":{"name":"eCenter"},"mark":{"type":"text","align":"center","baseline":"middle"},"encoding":{"text":{"field":"label"}}},
{"data":{"name":"eItalic"},"mark":{"type":"text","align":"center","baseline":"middle","fontStyle":"italic"},"encoding":{"text":{"field":"label"}}},
{"data":{"name":"eLetter"},"mark":{"type":"text","align":"left","baseline":"middle","fontSize":44,"fontWeight":"bold","color":"black"},"encoding":{"text":{"field":"label"}}}
]}
],"spacing":10}
],"spacing":29
}
